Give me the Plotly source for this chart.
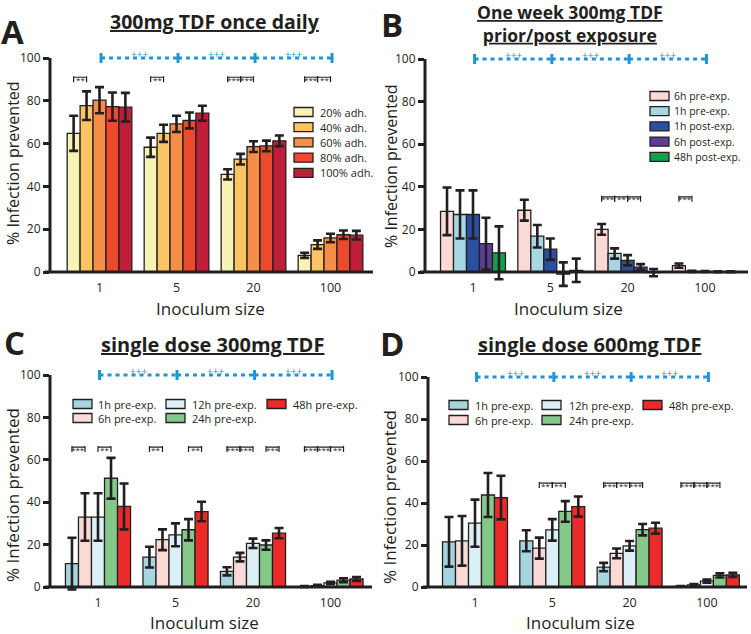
import plotly.graph_objects as go

W, H = 751, 634
FONT = "Open Sans"
INK = "#231f20"
BLUE = "#1e96d4"
BARGAP = 0.16
YMIN, YMAX = -12, 108

inoculum = ["1", "5", "20", "100"]
y_ticks = [0, 20, 40, 60, 80, 100]

# ---------------- Panel A: 300mg TDF once daily ----------------
a_names = ["20% adh.", "40% adh.", "60% adh.", "80% adh.", "100% adh."]
a_colors = ["#f7f3b5", "#fdc463", "#f68d48", "#ec4a2d", "#be1e38"]
a_adh20 = [64.8, 58.3, 45.6, 7.8]
a_adh40 = [77.7, 64.8, 52.7, 12.8]
a_adh60 = [80.3, 69.2, 58.6, 15.9]
a_adh80 = [77.3, 70.8, 58.9, 17.4]
a_adh100 = [77.0, 74.2, 61.3, 17.2]
a_adh20_err = [8.2, 4.5, 2.4, 1.2]
a_adh40_err = [6.7, 4.0, 2.5, 2.0]
a_adh60_err = [6.1, 3.8, 2.5, 2.0]
a_adh80_err = [6.6, 3.7, 2.5, 2.0]
a_adh100_err = [6.7, 3.5, 2.5, 2.0]
a_sig = [(0, 0, 1, "**"), (1, 0, 1, "**"), (2, 0, 1, "***"), (2, 1, 2, "***"),
         (3, 0, 1, "***"), (3, 1, 2, "**")]
a_sig_level = 91

# ---------------- Panel B: one week 300mg TDF prior/post ----------------
b_names = ["6h pre-exp.", "1h pre-exp.", "1h post-exp.", "6h post-exp.", "48h post-exp."]
b_colors = ["#fbdad6", "#a6d7e2", "#2a4fa3", "#5a3e97", "#14a04a"]
b_pre6 = [28.5, 29.0, 20.0, 3.0]
b_pre1 = [27.0, 16.8, 8.7, 0.3]
b_post1 = [27.0, 10.7, 5.5, 0.2]
b_post6 = [13.3, -1.0, 2.3, 0.1]
b_post48 = [9.0, 0.8, -0.3, 0.1]
b_pre6_err = [11.2, 4.9, 2.5, 1.0]
b_pre1_err = [11.3, 5.3, 2.4, 0.3]
b_post1_err = [11.3, 5.0, 2.4, 0.2]
b_post6_err = [12.2, 5.5, 1.4, 0.2]
b_post48_err = [12.4, 5.5, 1.7, 0.2]
b_sig = [(2, 0, 1, "***"), (2, 1, 2, "**"), (2, 2, 3, "***"), (3, 0, 1, "***")]
b_sig_level = 35.3

# ---------------- Panel C: single dose 300mg TDF ----------------
cd_names = ["1h pre-exp.", "6h pre-exp.", "12h pre-exp.", "24h pre-exp.", "48h pre-exp."]
cd_colors = ["#a6d5e0", "#fbdad6", "#dcf0f7", "#84c98a", "#ec2a2a"]
c_pre1 = [11.0, 14.1, 7.4, 0.2]
c_pre6 = [33.0, 22.3, 14.1, 0.6]
c_pre12 = [33.0, 24.6, 20.6, 1.9]
c_pre24 = [51.3, 27.0, 19.8, 3.2]
c_pre48 = [38.0, 35.6, 25.4, 3.8]
c_pre1_err = [12.2, 4.9, 1.9, 0.2]
c_pre6_err = [11.2, 4.9, 2.0, 0.4]
c_pre12_err = [11.2, 5.4, 2.2, 0.6]
c_pre24_err = [9.6, 5.0, 2.2, 0.9]
c_pre48_err = [10.8, 4.6, 2.4, 0.9]
c_sig = [(0, 0, 1, "***"), (0, 2, 3, "**"), (1, 0, 1, "**"), (1, 3, 4, "**"),
         (2, 0, 1, "***"), (2, 1, 2, "***"), (2, 3, 4, "***"),
         (3, 0, 1, "***"), (3, 1, 2, "***"), (3, 2, 3, "**")]
c_sig_level = 66

# ---------------- Panel D: single dose 600mg TDF ----------------
d_pre1 = [21.5, 22.0, 9.5, 0.3]
d_pre6 = [22.0, 18.5, 16.0, 1.0]
d_pre12 = [30.4, 27.2, 19.6, 2.8]
d_pre24 = [43.8, 36.0, 27.3, 5.5]
d_pre48 = [42.6, 38.3, 28.0, 5.8]
d_pre1_err = [11.8, 5.0, 2.0, 0.2]
d_pre6_err = [11.8, 5.0, 2.3, 0.4]
d_pre12_err = [11.2, 5.1, 2.3, 0.7]
d_pre24_err = [10.5, 4.9, 2.7, 1.0]
d_pre48_err = [10.4, 4.8, 2.6, 1.0]
d_sig = [(1, 1, 2, "**"), (1, 2, 3, "**"),
         (2, 0, 1, "***"), (2, 1, 2, "**"), (2, 2, 3, "***"),
         (3, 0, 1, "***"), (3, 1, 2, "***"), (3, 2, 3, "***")]
d_sig_level = 49.5

# "+++" comparisons between neighbouring inoculum sizes
trend_marks = ["+++", "+++", "+++"]

panels = [
    dict(letter="A", title=["300mg TDF once daily"], title_size=19.5, ytitle_size=16,
         names=a_names, colors=a_colors,
         vals=[a_adh20, a_adh40, a_adh60, a_adh80, a_adh100],
         errs=[a_adh20_err, a_adh40_err, a_adh60_err, a_adh80_err, a_adh100_err],
         sig=a_sig, sig_y=a_sig_level,
         g=dict(xl=50, xr=373, c0=99.5, step=77.0, y0=272, y100=58),
         letter_xy=(13, 31), title_xy=(215, 21), ytitle_xy=(13, 163), xtitle_xy=(210, 308),
         legend=dict(kind="col", box_x=294, text_x=318, y0=112, dy=15.2, font=11)),
    dict(letter="B", title=["One week 300mg TDF", "prior/post exposure"], title_size=17.5, ytitle_size=16,
         names=b_names, colors=b_colors,
         vals=[b_pre6, b_pre1, b_post1, b_post6, b_post48],
         errs=[b_pre6_err, b_pre1_err, b_post1_err, b_post6_err, b_post48_err],
         sig=b_sig, sig_y=b_sig_level,
         g=dict(xl=425, xr=748, c0=473, step=77.3, y0=272, y100=59),
         letter_xy=(392, 25), title_xy=(570, 23.5), ytitle_xy=(391, 166), xtitle_xy=(568, 308),
         legend=dict(kind="col", box_x=650, text_x=672, y0=96, dy=15.2, font=10.5)),
    dict(letter="C", title=["single dose 300mg TDF"], title_size=20, ytitle_size=17,
         names=cd_names, colors=cd_colors,
         vals=[c_pre1, c_pre6, c_pre12, c_pre24, c_pre48],
         errs=[c_pre1_err, c_pre6_err, c_pre12_err, c_pre24_err, c_pre48_err],
         sig=c_sig, sig_y=c_sig_level,
         g=dict(xl=50, xr=372, c0=98, step=77.5, y0=587, y100=375),
         letter_xy=(14, 342), title_xy=(212, 345), ytitle_xy=(12, 495), xtitle_xy=(204, 622),
         legend=dict(kind="grid", box_x=[73, 166, 267], text_x=[96, 190, 291], rows=[404, 418], font=11)),
    dict(letter="D", title=["single dose 600mg TDF"], title_size=20, ytitle_size=17,
         names=cd_names, colors=cd_colors,
         vals=[d_pre1, d_pre6, d_pre12, d_pre24, d_pre48],
         errs=[d_pre1_err, d_pre6_err, d_pre12_err, d_pre24_err, d_pre48_err],
         sig=d_sig, sig_y=d_sig_level,
         g=dict(xl=428, xr=747, c0=475, step=77.3, y0=587, y100=377),
         letter_xy=(392, 343), title_xy=(589, 345), ytitle_xy=(389, 497), xtitle_xy=(580, 622),
         legend=dict(kind="grid", box_x=[449, 542, 643], text_x=[473, 567, 667], rows=[405, 420], font=11)),
]

fig = go.Figure()
shapes = []
annotations = []
layout_axes = {}

bw = (1 - BARGAP) / 5  # width of a single bar in category units


def px(x):
    return x / W


def py(y):
    return 1 - y / H


def note(x, y, text, size, color=INK, xanchor="center", **kw):
    d = dict(x=x, y=y, text=text, showarrow=False, xanchor=xanchor, yanchor="middle",
             font=dict(family=FONT, size=size, color=color))
    d.update(kw)
    if "xref" not in d:
        d["xref"] = "paper"
        d["yref"] = "paper"
    annotations.append(d)


for i, p in enumerate(panels):
    sfx = "" if i == 0 else str(i + 1)
    xn, yn = "x" + sfx, "y" + sfx
    g = p["g"]
    k = (g["y0"] - g["y100"]) / 100.0  # px per unit
    bottom = g["y0"] - YMIN * k
    top = g["y100"] - (YMAX - 100) * k

    layout_axes["xaxis" + sfx] = dict(
        domain=[px(g["xl"]), px(g["xr"])],
        range=[(g["xl"] - g["c0"]) / g["step"], (g["xr"] - g["c0"]) / g["step"]],
        anchor="free", position=py(g["y0"]), automargin=False,
        tickvals=list(range(len(inoculum))), ticktext=inoculum,
        ticks="outside", ticklen=4, tickcolor="rgba(0,0,0,0)",
        showline=False, showgrid=False, zeroline=False,
        tickfont=dict(family=FONT, size=12.5, color=INK), fixedrange=True)
    layout_axes["yaxis" + sfx] = dict(
        domain=[py(bottom), py(top)], range=[YMIN, YMAX], anchor=xn, automargin=False,
        tickvals=y_ticks, ticks="outside", ticklen=6, tickwidth=2.5, tickcolor=INK,
        showline=False, showgrid=False, zeroline=False,
        tickfont=dict(family=FONT, size=12, color=INK), fixedrange=True)

    for name, col, v, e in zip(p["names"], p["colors"], p["vals"], p["errs"]):
        fig.add_trace(go.Bar(
            x=list(range(len(inoculum))), y=v, name=name, xaxis=xn, yaxis=yn,
            marker=dict(color=col, line=dict(color=INK, width=1.3)),
            error_y=dict(type="data", array=e, color=INK, thickness=2.6, width=4.5),
            showlegend=False))

    # axis lines
    shapes.append(dict(type="line", xref="paper", yref=yn, x0=px(g["xl"]), x1=px(g["xl"]),
                       y0=0, y1=100, line=dict(color=INK, width=3)))
    shapes.append(dict(type="line", xref="paper", yref=yn, x0=px(g["xl"] - 5), x1=px(g["xr"]),
                       y0=0, y1=0, line=dict(color=INK, width=3)))

    # blue trend brackets between successive inoculum sizes
    tick_h = 5.0 / k
    for j in range(len(inoculum) - 1):
        xa, xb = j + 0.02, j + 1.02
        shapes.append(dict(type="line", xref=xn, yref=yn, x0=xa, x1=xb, y0=100, y1=100,
                           line=dict(color=BLUE, width=3, dash="4px,4px")))
        note((xa + xb) / 2, 100, trend_marks[j], 10, color=BLUE, xref=xn, yref=yn, yshift=4)
    for j in range(len(inoculum)):
        shapes.append(dict(type="line", xref=xn, yref=yn, x0=j + 0.02, x1=j + 0.02,
                           y0=100 - tick_h, y1=100 + tick_h, line=dict(color=BLUE, width=3)))

    # significance brackets within an inoculum group
    L = p["sig_y"]
    for grp, j1, j2, txt in p["sig"]:
        xa = grp + (j1 - 2) * bw
        xb = grp + (j2 - 2) * bw
        shapes.append(dict(type="line", xref=xn, yref=yn, x0=xa, x1=xb, y0=L, y1=L,
                           line=dict(color=INK, width=1.2)))
        for xx in (xa, xb):
            shapes.append(dict(type="line", xref=xn, yref=yn, x0=xx, x1=xx,
                               y0=L + 1.0 / k, y1=L - 5.0 / k, line=dict(color=INK, width=1.2)))
        note((xa + xb) / 2, L, txt, 8, xref=xn, yref=yn, yshift=-2)

    # panel letter
    lx, ly = p["letter_xy"]
    note(px(lx), py(ly), "<b>%s</b>" % p["letter"], 33)
    # title (bold, underlined; one or two lines)
    tx, ty = p["title_xy"]
    title_html = "<br>".join("<b><u>%s</u></b>" % t for t in p["title"])
    note(px(tx), py(ty), title_html, p["title_size"], borderpad=0)
    # axis titles
    ax_, ay_ = p["ytitle_xy"]
    note(px(ax_), py(ay_), "% Infection prevented", p["ytitle_size"], textangle=-90)
    bx_, by_ = p["xtitle_xy"]
    note(px(bx_), py(by_), "Inoculum size", 17)

    # legend (drawn as swatches + labels)
    lg = p["legend"]
    for n, (name, col) in enumerate(zip(p["names"], p["colors"])):
        if lg["kind"] == "col":
            bx0, tx0, yc = lg["box_x"], lg["text_x"], lg["y0"] + n * lg["dy"]
        else:
            c, r = divmod(n, 2)
            bx0, tx0, yc = lg["box_x"][c], lg["text_x"][c], lg["rows"][r]
        shapes.append(dict(type="rect", xref="paper", yref="paper",
                           x0=px(bx0), x1=px(bx0 + 19), y0=py(yc + 4.5), y1=py(yc - 4.5),
                           fillcolor=col, line=dict(color=INK, width=1.3)))
        note(px(tx0), py(yc), name, lg["font"], xanchor="left")

fig.update_layout(
    template="none",
    width=W, height=H, margin=dict(l=0, r=0, t=0, b=0, pad=0),
    paper_bgcolor="white", plot_bgcolor="rgba(0,0,0,0)",
    barmode="group", bargap=BARGAP, bargroupgap=0,
    showlegend=False, shapes=shapes, annotations=annotations,
    font=dict(family=FONT, color=INK),
    **layout_axes)

fig.write_html("out.html", config={"displayModeBar": False},
               post_script="document.body.style.margin='0px';document.body.style.overflow='hidden';")
